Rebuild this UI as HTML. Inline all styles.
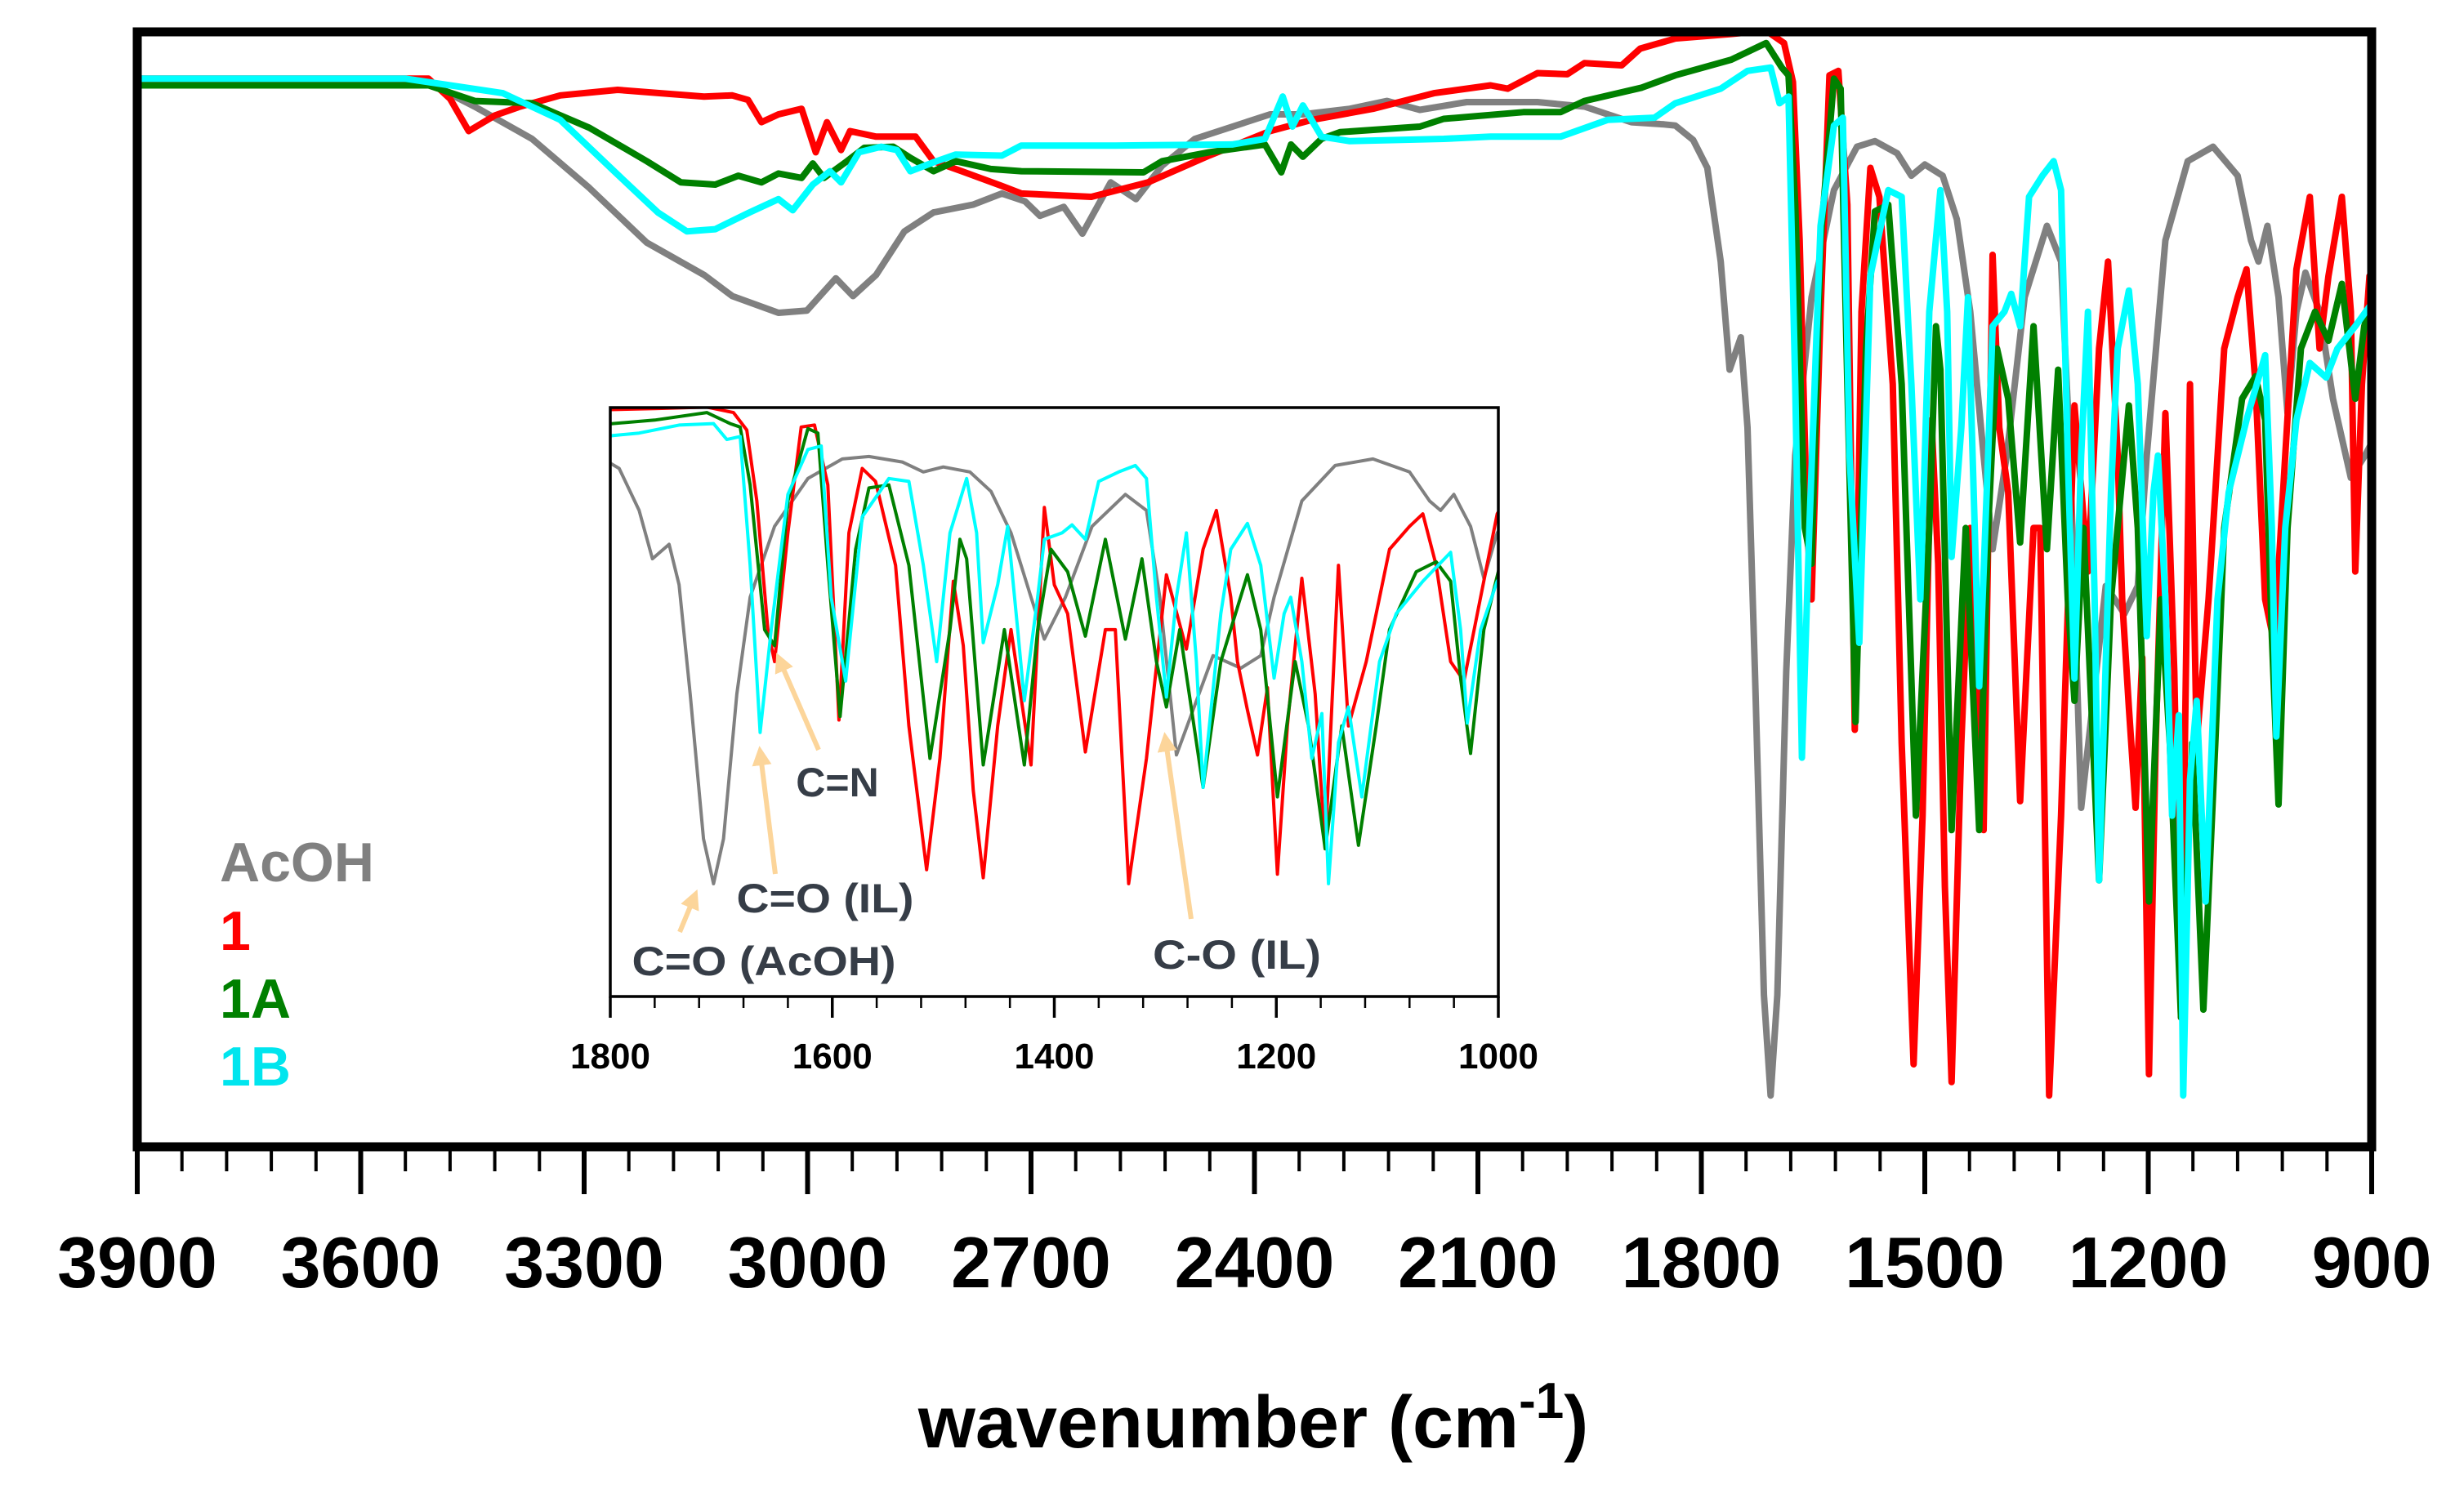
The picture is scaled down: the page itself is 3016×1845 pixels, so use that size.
<!DOCTYPE html>
<html><head><meta charset="utf-8"><style>
html,body{margin:0;padding:0;background:#fff;}
svg{display:block;font-family:"Liberation Sans",Arial,sans-serif;}
</style></head><body>
<svg id="chart" width="3016" height="1845" viewBox="0 0 3016 1845" xmlns="http://www.w3.org/2000/svg">
<defs>
<clipPath id="mainClip"><rect x="168" y="39" width="2735" height="1365"/></clipPath>
<clipPath id="insetClip"><rect x="747" y="499" width="1087" height="721"/></clipPath>
<marker id="ah" viewBox="0 0 10 10" refX="5" refY="5" markerWidth="4" markerHeight="4" orient="auto-start-reverse"><path d="M0,0 L10,5 L0,10 z" fill="#fcd59a"/></marker>
</defs>
<rect x="0" y="0" width="3016" height="1845" fill="#fff"/>
<g id="mainSeries" clip-path="url(#mainClip)"></g>
<rect x="168" y="39" width="2735" height="1365" fill="none" stroke="#000" stroke-width="11"/>
<g id="mainTicks"></g>
<text x="1534" y="1772" text-anchor="middle" font-size="90" font-weight="bold" fill="#000">wavenumber (cm<tspan dy="-36" font-size="62">-1</tspan><tspan dy="36">)</tspan></text>

<g>
<text x="269" y="1079" font-size="68" font-weight="bold" fill="#808080">AcOH</text>
<text x="269" y="1163" font-size="68" font-weight="bold" fill="#ff0000">1</text>
<text x="269" y="1246" font-size="68" font-weight="bold" fill="#008000">1A</text>
<text x="269" y="1329" font-size="68" font-weight="bold" fill="#00e5ee">1B</text>
</g>

<g>
<rect x="747" y="499" width="1087" height="721" fill="#fff"/>
<g id="insetSeries" clip-path="url(#insetClip)"></g>
<rect x="747" y="499" width="1087" height="721" fill="none" stroke="#000" stroke-width="3.5"/>
<g id="insetTicks"></g>
<g stroke="#fcd59a" stroke-width="6" fill="none">
<line x1="1002" y1="918" x2="955" y2="810" marker-end="url(#ah)"/>
<line x1="949" y1="1070" x2="931" y2="925" marker-end="url(#ah)"/>
<line x1="832" y1="1141" x2="849" y2="1100" marker-end="url(#ah)"/>
<line x1="1458" y1="1125" x2="1427" y2="908" marker-end="url(#ah)"/>
</g>
<g font-weight="bold" fill="#363d47" font-size="50">
<text x="1025" y="975" text-anchor="middle">C=N</text>
<text x="1010" y="1117" text-anchor="middle" textLength="217" lengthAdjust="spacingAndGlyphs">C=O (IL)</text>
<text x="935" y="1194" text-anchor="middle" textLength="323" lengthAdjust="spacingAndGlyphs">C=O (AcOH)</text>
<text x="1514" y="1186" text-anchor="middle" textLength="206" lengthAdjust="spacingAndGlyphs">C-O (IL)</text>
</g>
</g>
</svg>
<script>
// ---- data (wavenumber cm-1, transmittance %) ----
const acohWn = [3900,3700,3509,3447,3370,3293,3216,3139,3101,3039,3001,2962,2939,2908,2870,2831,2778,2739,2708,2688,2656,2631,2593,2559,2524,2480,2379,2335,2272,2222,2178,2115,2020,1957,1894,1850,1835,1811,1792,1774,1762,1747,1738,1728,1716,1707,1698,1686,1674,1652,1622,1591,1567,1537,1518,1500,1476,1457,1439,1421,1409,1390,1366,1336,1317,1305,1290,1275,1257,1232,1214,1202,1177,1147,1113,1080,1062,1052,1040,1025,1013,1001,989,970,952,928,909,894];
const acohT  = [95.4,95.4,95.4,93.3,90.4,86,81.1,78.2,76.3,74.8,75,77.9,76.3,78.2,82.1,83.8,84.5,85.5,84.8,83.5,84.3,81.9,86.5,85.0,88.0,90.4,92.6,92.6,93.1,93.8,93.0,93.7,93.7,93.3,91.9,91.7,91.6,90.3,87.8,79.4,69.7,72.6,64.5,42.6,13.6,4.6,13.6,42.6,62.0,76.2,85.8,89.7,90.2,89.1,87.1,88.1,87.1,83.2,74.9,62.0,53.6,62.0,76.2,82.6,79.4,62.0,30.4,39.4,50.3,47.8,50.3,62.0,81.3,88.4,89.7,87.1,81.3,79.4,82.6,76.2,65.8,74.9,78.4,74.9,67.1,60.0,62.0,63.9];

const s1Wn = [3900,3600,3509,3480,3455,3420,3386,3332,3255,3139,3101,3080,3062,3039,3008,2989,2974,2955,2943,2908,2855,2831,2793,2740,2713,2619,2543,2461,2379,2323,2241,2159,2083,2060,2020,1980,1957,1907,1882,1835,1760,1713,1689,1677,1668,1658,1652,1640,1628,1616,1604,1594,1585,1573,1561,1543,1531,1515,1503,1491,1482,1473,1464,1451,1439,1421,1409,1400,1388,1372,1354,1345,1333,1317,1299,1281,1266,1254,1241,1235,1226,1217,1208,1199,1190,1177,1165,1156,1144,1135,1119,1110,1098,1080,1068,1056,1043,1031,1016,1001,983,970,958,940,928,922,913,903,894];
const s1T  = [95.8,95.8,95.8,94,91.1,92.5,93.3,94.3,94.8,94.2,94.3,93.9,91.9,92.6,93.1,89.2,91.9,89.4,91.1,90.6,90.6,88.4,87.5,86.2,85.5,85.2,86.5,88.9,91.1,92.1,93.1,94.5,95.2,94.9,96.3,96.2,97.2,97.0,98.5,99.4,99.8,100.1,99.0,95.5,81.3,55.5,49.1,74.9,96.1,96.5,84.5,37.4,74.9,87.8,85.2,68.4,36.2,7.4,29.7,65.2,52.3,23.3,5.8,36.2,55.5,28.4,80.0,64.5,58.7,31.0,55.5,55.5,4.6,29.7,66.5,51.6,71.6,79.4,62.0,49.1,39.4,30.4,43.9,6.5,36.2,65.8,42.6,11.6,68.4,36.2,49.1,58.7,71.6,76.2,78.7,68.4,49.1,45.2,62.0,78.7,85.2,71.6,78.1,85.2,74.9,51.6,68.4,78.1,78.4];

const s1aWn = [3900,3509,3447,3370,3293,3216,3170,3124,3093,3062,3039,3008,2993,2978,2947,2924,2885,2862,2831,2801,2754,2713,2549,2524,2461,2386,2364,2351,2335,2310,2285,2178,2146,2039,1989,1957,1880,1835,1760,1713,1692,1683,1674,1661,1652,1640,1622,1613,1604,1593,1579,1567,1549,1531,1512,1494,1485,1479,1464,1445,1427,1415,1403,1388,1372,1354,1336,1321,1308,1299,1287,1266,1250,1226,1214,1199,1183,1171,1156,1141,1126,1110,1098,1074,1056,1043,1034,1025,1013,995,976,958,940,922,910,894];
const s1aT  = [95.2,95.2,93.8,93.6,91.4,88.4,86.5,86.3,87.1,86.5,87.3,86.9,88.2,86.9,88.4,89.6,89.7,88.7,87.5,88.4,87.7,87.5,87.4,88.4,89.2,89.9,87.4,89.9,88.8,90.4,91.0,91.5,92.2,92.8,92.8,93.8,95.0,96.1,97.5,99.0,96.8,96.1,84.5,55.5,52.3,81.3,95.8,94.9,68.4,38.1,71.6,83.9,84.5,68.4,29.7,55.5,73.6,69.7,28.4,55.5,28.4,55.5,71.6,67.1,54.2,73.6,53.6,69.7,49.1,40.0,55.5,23.9,49.1,66.5,55.5,22.0,49.1,36.2,11.6,36.2,12.3,36.2,55.5,67.1,69.1,65.2,45.8,30.7,55.5,71.6,74.9,72.3,77.4,67.1,73.6,77.4];

const s1bWn = [3900,3540,3409,3332,3255,3201,3162,3124,3078,3039,3020,2993,2970,2955,2931,2901,2880,2862,2831,2801,2739,2713,2587,2430,2386,2362,2349,2335,2310,2272,2146,2083,1989,1926,1863,1835,1774,1738,1707,1695,1683,1674,1665,1655,1640,1622,1610,1601,1588,1573,1549,1531,1518,1506,1494,1479,1470,1464,1451,1442,1433,1427,1415,1409,1393,1384,1372,1360,1342,1327,1317,1308,1299,1290,1281,1272,1266,1250,1241,1226,1214,1202,1193,1187,1177,1168,1159,1153,1144,1135,1123,1107,1092,1068,1043,1034,1028,1016,1001,983,961,946,922,894];
const s1bT  = [95.8,95.8,94.5,92.1,87.2,83.8,82.1,82.3,83.8,85.0,84.0,86.3,87.5,86.5,89.2,89.7,89.4,87.5,88.3,89.0,88.9,89.8,89.8,89.9,90.4,94.2,91.5,93.4,90.6,90.2,90.4,90.6,90.6,92.1,92.3,93.6,94.9,96.5,96.8,93.6,94.2,68.4,34.9,55.5,82.6,91.6,92.3,62.0,45.2,78.1,85.8,85.2,68.4,49.1,74.9,85.8,74.9,52.9,64.5,76.2,55.5,41.3,62.0,73.6,74.9,76.5,73.6,85.2,87.1,88.4,85.8,62.0,42.0,62.0,74.9,49.1,23.9,58.7,71.6,76.8,68.4,45.8,58.7,62.0,49.1,29.7,38.7,4.6,32.9,40.0,22.0,49.1,58.7,65.2,71.0,55.5,36.8,55.5,65.2,70.3,69.0,71.6,73.6,76.2];

const mainTickValues = [3900,3600,3300,3000,2700,2400,2100,1800,1500,1200,900];
const insetTickValues = [1800,1600,1400,1200,1000];

// ---- axes ----
const NS = "http://www.w3.org/2000/svg";
const xMain = w => 168 + (3900 - w) / 3000 * 2735;
const yMain = t => 1404 - t / 100 * 1365;
const xIn = w => 747 + (1800 - w) / 800 * 1087;
const yIn = t => 1220 - (t + 18) / 118 * 721;

function mk(tag, attrs) { const e = document.createElementNS(NS, tag); for (const k in attrs) e.setAttribute(k, attrs[k]); return e; }
function pathD(wn, tv, fx, fy) { return wn.map((w, i) => (i ? "L" : "M") + fx(w).toFixed(1) + "," + fy(tv[i]).toFixed(1)).join(""); }

const series = [
  {name: "acoh", wn: acohWn, t: acohT, color: "#808080"},
  {name: "1", wn: s1Wn, t: s1T, color: "#ff0000"},
  {name: "1a", wn: s1aWn, t: s1aT, color: "#008000"},
  {name: "1b", wn: s1bWn, t: s1bT, color: "#00ffff"}
];
const mainG = document.getElementById("mainSeries");
const inG = document.getElementById("insetSeries");
series.forEach(s => {
  const p = mk("path", {d: pathD(s.wn, s.t, xMain, yMain), fill: "none", stroke: s.color, "stroke-width": 8, "stroke-linejoin": "round"});
  
  
  mainG.appendChild(p);
  const q = mk("path", {d: pathD(s.wn, s.t, xIn, yIn), fill: "none", stroke: s.color, "stroke-width": 4, "stroke-linejoin": "round"});
  
  
  inG.appendChild(q);
});

// main ticks
const mt = document.getElementById("mainTicks");
for (let w = 3900; w >= 900; w -= 60) {
  const major = (3900 - w) % 300 === 0;
  const l = mk("line", {x1: xMain(w), x2: xMain(w), y1: 1404, y2: major ? 1462 : 1434, stroke: "#000", "stroke-width": major ? 6 : 4});
  
  
  mt.appendChild(l);
}
mainTickValues.forEach(v => {
  const t = mk("text", {x: xMain(v), y: 1576, "text-anchor": "middle", "font-size": 88, "font-weight": "bold", fill: "#000"});
  t.textContent = v;
  
  
  mt.appendChild(t);
});
// inset ticks
const it = document.getElementById("insetTicks");
for (let w = 1800; w >= 1000; w -= 40) {
  const major = (1800 - w) % 200 === 0;
  const l = mk("line", {x1: xIn(w), x2: xIn(w), y1: 1220, y2: major ? 1246 : 1234, stroke: "#000", "stroke-width": major ? 3.5 : 2.5});
  
  
  it.appendChild(l);
}
insetTickValues.forEach(v => {
  const t = mk("text", {x: xIn(v), y: 1308, "text-anchor": "middle", "font-size": 44, "font-weight": "bold", fill: "#000"});
  t.textContent = v;
  
  
  it.appendChild(t);
});
</script>
</body></html>
